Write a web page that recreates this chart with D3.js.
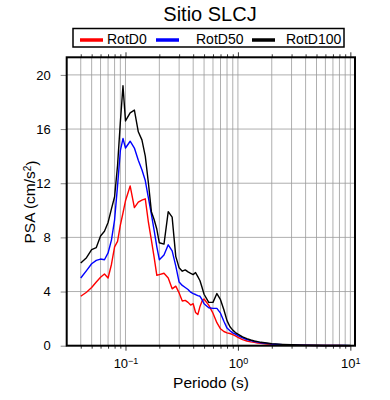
<!DOCTYPE html>
<html>
<head>
<meta charset="utf-8">
<script src="https://cdn.jsdelivr.net/npm/d3@7"></script>
<style>
  body { margin: 0; background: #fff; }
  text { font-family: "Liberation Sans", Arial, sans-serif; }
</style>
</head>
<body>
<script>
// periods (s) and spectral accelerations (cm/s^2)
const periods = [0.04, 0.045, 0.05, 0.055, 0.06, 0.065, 0.07, 0.075, 0.08, 0.085, 0.09, 0.095,
  0.1, 0.11, 0.12, 0.13, 0.14, 0.15, 0.16, 0.17, 0.18, 0.19, 0.2, 0.22, 0.24, 0.26, 0.28,
  0.3, 0.32, 0.34, 0.36, 0.38, 0.4, 0.42, 0.44, 0.46, 0.48, 0.5, 0.55, 0.6, 0.65, 0.7, 0.75,
  0.8, 0.85, 0.9, 0.95, 1.0, 1.1, 1.2, 1.3, 1.4, 1.5, 1.6, 1.8, 2.0, 2.5, 3, 3.5, 4, 5, 6, 7, 8, 9, 10];

const rotD0 = [3.65, 3.95, 4.3, 4.7, 5.05, 5.3, 5.0, 6.0, 7.3, 7.7, 8.9, 9.8,
  10.7, 11.8, 10.2, 10.6, 10.75, 10.85, 9.1, 7.8, 6.5, 5.2, 5.25, 5.35, 5.0, 4.2, 4.4,
  3.9, 3.3, 3.35, 3.2, 3.0, 3.1, 2.45, 2.3, 2.9, 3.3, 3.45, 3.0, 2.4, 1.7, 1.25, 1.05,
  0.95, 0.9, 0.82, 0.72, 0.62, 0.45, 0.35, 0.28, 0.25, 0.2, 0.17, 0.13, 0.1, 0.07, 0.05, 0.04, 0.03, 0.02, 0.015, 0.01, 0.01, 0.008, 0.007];

const rotD50 = [5.0, 5.55, 6.05, 6.3, 6.4, 6.35, 6.85, 7.8, 9.3, 11.8, 14.4, 15.3,
  14.6, 15.1, 14.6, 13.7, 13.0, 12.2, 10.9, 9.7, 8.5, 7.3, 6.35, 6.7, 7.45, 7.0, 5.9,
  4.7, 4.45, 4.3, 4.15, 3.95, 3.85, 3.78, 3.7, 3.65, 3.4, 3.1, 2.8, 2.76, 2.76, 2.4, 1.8,
  1.3, 1.1, 0.95, 0.85, 0.75, 0.58, 0.46, 0.37, 0.31, 0.26, 0.22, 0.17, 0.13, 0.08, 0.06, 0.04, 0.03, 0.02, 0.015, 0.012, 0.01, 0.01, 0.008];

const rotD100 = [6.1, 6.5, 7.1, 7.25, 8.1, 8.45, 9.1, 10.1, 11.0, 13.3, 16.5, 19.2,
  16.6, 17.2, 17.4, 15.8, 15.2, 14.0, 12.0, 9.9, 9.3, 8.6, 7.6, 7.5, 9.9, 9.5, 6.6,
  5.75, 5.5, 5.6, 5.45, 5.35, 5.25, 5.4, 5.1, 4.8, 4.3, 3.8, 3.2, 3.2, 3.85, 3.4, 2.65,
  1.85, 1.4, 1.15, 0.97, 0.85, 0.65, 0.52, 0.42, 0.35, 0.3, 0.25, 0.2, 0.15, 0.1, 0.07, 0.05, 0.04, 0.03, 0.02, 0.02, 0.015, 0.01, 0.01];

const seriesNames = ["RotD0", "RotD50", "RotD100"];
const seriesColors = ["#ff0000", "#0000ff", "#000000"];
const yTicks = [0, 4, 8, 12, 16, 20];
const xDecades = [0.1, 1, 10];
const xExponents = ["\u22121", "0", "1"];

const svg = d3.select("body").append("svg")
    .attr("width", 390)
    .attr("height", 400);

const plotLeft = 66.7, plotRight = 355, plotTop = 57.3, plotBottom = 345.7;

const x = d3.scaleLog().domain([0.03, 11]).range([plotLeft, plotRight]);
const y = d3.scaleLinear().domain([0, 21.3]).range([plotBottom, plotTop]);

const xGrid = x.ticks().filter(d => d > 0.031 && d < 10.9);

// grid
svg.append("g").selectAll("line").data(xGrid).enter().append("line")
    .attr("x1", d => x(d)).attr("x2", d => x(d))
    .attr("y1", plotTop).attr("y2", plotBottom)
    .attr("stroke", "#9a9a9a").attr("stroke-width", 0.8);

svg.append("g").selectAll("line").data(yTicks.filter(d => d > 0)).enter().append("line")
    .attr("x1", plotLeft).attr("x2", plotRight)
    .attr("y1", d => y(d)).attr("y2", d => y(d))
    .attr("stroke", "#9a9a9a").attr("stroke-width", 0.8);

// curves
const line = d3.line()
    .x(d => x(d[0]))
    .y(d => y(d[1]));

[rotD0, rotD50, rotD100].forEach((vals, i) => {
  svg.append("path")
      .datum(periods.map((p, j) => [p, vals[j]]))
      .attr("fill", "none")
      .attr("stroke", seriesColors[i])
      .attr("stroke-width", 1.4)
      .attr("stroke-linejoin", "round")
      .attr("d", line);
});

// bottom axis
const isDecade = d => xDecades.some(v => Math.abs(v - d) < 1e-9);
const xAxisG = svg.append("g")
    .attr("transform", "translate(0," + plotBottom + ")")
    .call(d3.axisBottom(x).tickValues(xGrid).tickSizeOuter(0).tickSize(5).tickPadding(8).tickFormat(""));
xAxisG.select(".domain").remove();
xAxisG.selectAll(".tick line").attr("y2", d => isDecade(d) ? 5 : 3).attr("stroke-width", 0.8);
xAxisG.selectAll(".tick text").each(function(d) {
  const i = xDecades.findIndex(v => Math.abs(v - d) < 1e-9);
  if (i < 0) return;
  const t = d3.select(this).attr("font-size", "13px").attr("fill", "#000");
  t.append("tspan").text("10");
  t.append("tspan").attr("dy", "-0.45em").attr("font-size", "9px").text(xExponents[i]);
});

// top axis ticks
const xTopG = svg.append("g")
    .attr("transform", "translate(0," + plotTop + ")")
    .call(d3.axisTop(x).tickValues(xGrid).tickSizeOuter(0).tickSize(5).tickFormat(""));
xTopG.select(".domain").remove();
xTopG.selectAll(".tick line").attr("y2", d => isDecade(d) ? -5 : -3).attr("stroke-width", 0.8);

// left axis
const yAxisG = svg.append("g")
    .attr("transform", "translate(" + plotLeft + ",0)")
    .call(d3.axisLeft(y).tickValues(yTicks).tickSizeOuter(0).tickSize(6).tickPadding(10));
yAxisG.select(".domain").remove();
yAxisG.selectAll(".tick line").attr("stroke", "#666").attr("stroke-width", 0.8);
yAxisG.selectAll(".tick text").attr("font-size", "13px").attr("fill", "#000");

// frame
svg.append("rect")
    .attr("x", plotLeft).attr("y", plotTop)
    .attr("width", plotRight - plotLeft).attr("height", plotBottom - plotTop)
    .attr("fill", "none").attr("stroke", "#000").attr("stroke-width", 2);

// title
svg.append("text")
    .attr("x", 210).attr("y", 21)
    .attr("text-anchor", "middle")
    .attr("font-size", "20px")
    .text("Sitio SLCJ");

// axis titles
svg.append("text")
    .attr("x", 211).attr("y", 388)
    .attr("text-anchor", "middle")
    .attr("font-size", "15.5px")
    .text("Periodo (s)");

const yLab = svg.append("text")
    .attr("transform", "translate(35,202) rotate(-90)")
    .attr("text-anchor", "middle")
    .attr("font-size", "15.5px");
yLab.append("tspan").text("PSA (cm/s");
yLab.append("tspan").attr("dy", "-0.45em").attr("font-size", "10px").text("2");
yLab.append("tspan").attr("dy", "0.45em").text(")");

// legend
svg.append("rect")
    .attr("x", 73).attr("y", 28.5)
    .attr("width", 271).attr("height", 18.5)
    .attr("fill", "#fff").attr("stroke", "#000").attr("stroke-width", 1.5);

const legendX = [80, 156, 252];
const legendTextX = [107, 196, 286];
seriesNames.forEach((name, i) => {
  svg.append("line")
      .attr("x1", legendX[i]).attr("x2", legendX[i] + 23)
      .attr("y1", 40).attr("y2", 40)
      .attr("stroke", seriesColors[i]).attr("stroke-width", 3.5);
  svg.append("text")
      .attr("x", legendTextX[i]).attr("y", 44)
      .attr("font-size", "14px")
      .text(name);
});
</script>
</body>
</html>
